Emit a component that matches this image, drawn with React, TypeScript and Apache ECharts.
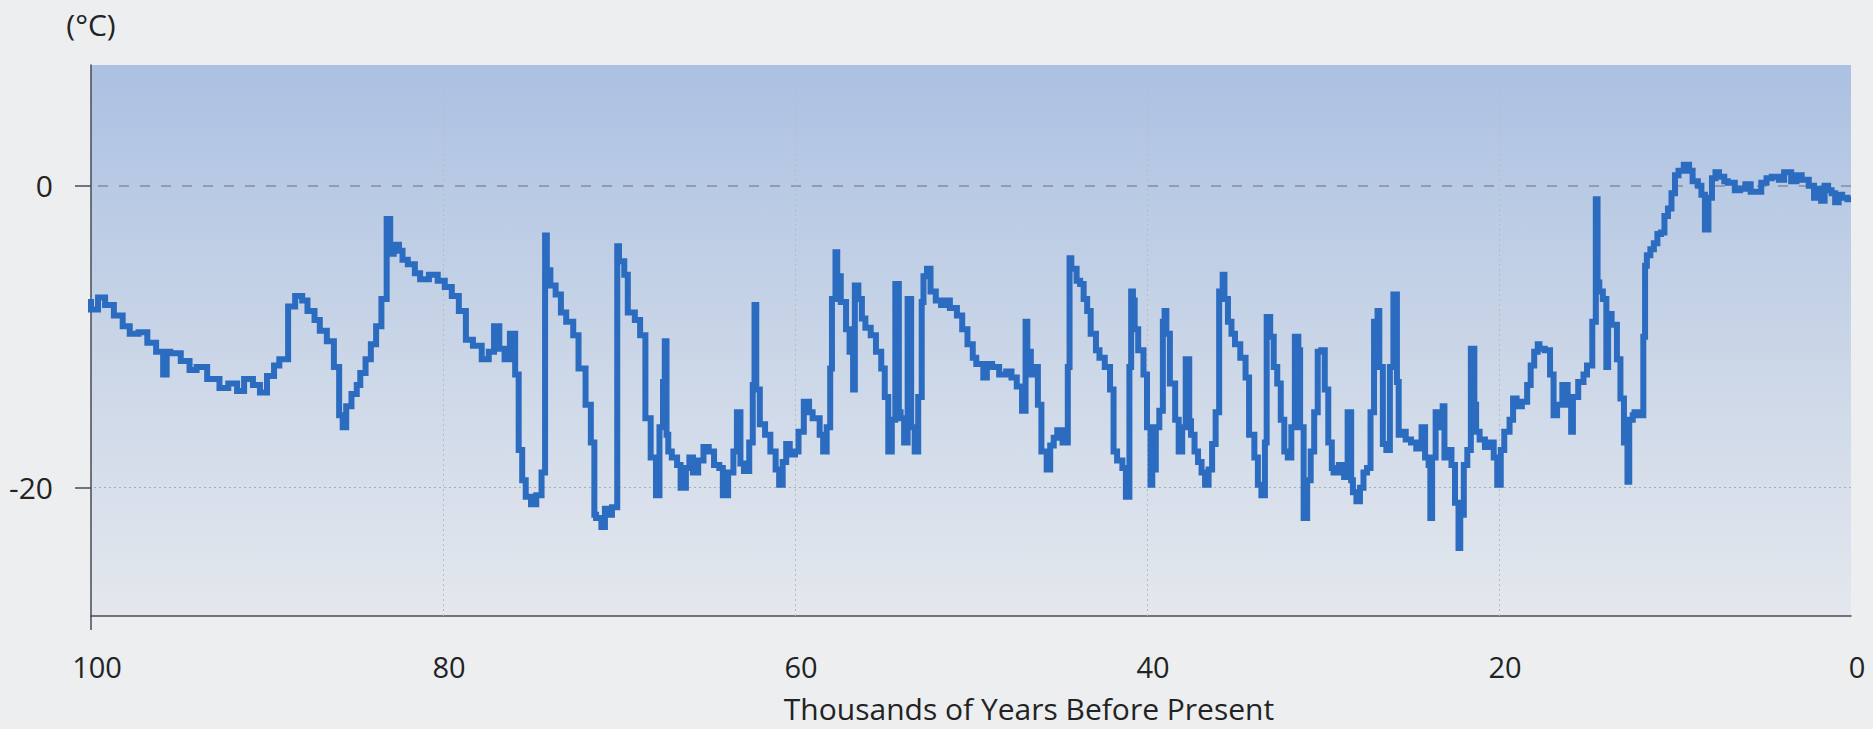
import React, { useEffect, useRef } from "react";
import * as echarts from "echarts";

// Thousands of years before present
const years: number[] = [
  100.0, 99.6, 99.2, 98.7, 98.2, 97.8, 97.3, 96.8, 96.3, 95.9, 95.7, 95.5, 94.9, 94.4, 94.0, 93.4, 92.7, 92.2, 91.7, 91.3,
  90.8, 90.4, 90.0, 89.6, 89.3, 88.8, 88.4, 88.0, 87.7, 87.3, 87.0, 86.6, 86.2, 85.9, 85.7, 85.5, 85.2, 84.9, 84.7, 84.4,
  84.1, 83.8, 83.5, 83.2, 83.0, 82.8, 82.5, 82.3, 82.0, 81.6, 81.3, 80.8, 80.3, 79.9, 79.5, 79.1, 78.7, 78.3, 77.8, 77.4,
  77.1, 76.8, 76.5, 76.2, 75.9, 75.7, 75.5, 75.3, 75.0, 74.7, 74.4, 74.2, 74.1, 73.9, 73.6, 73.3, 73.0, 72.6, 72.3, 71.9,
  71.6, 71.4, 71.3, 71.0, 70.8, 70.6, 70.4, 70.1, 70.0, 69.7, 69.5, 69.1, 68.8, 68.5, 68.2, 67.9, 67.7, 67.5, 67.4, 67.3,
  67.2, 67.0, 66.7, 66.5, 66.2, 66.0, 65.8, 65.5, 65.2, 64.9, 64.6, 64.3, 64.1, 63.8, 63.5, 63.3, 63.1, 62.9, 62.6, 62.4,
  62.3, 62.2, 62.0, 61.7, 61.4, 61.1, 60.9, 60.7, 60.5, 60.3, 60.0, 59.8, 59.5, 59.2, 59.0, 58.6, 58.4, 58.2, 58.0, 57.9,
  57.7, 57.6, 57.4, 57.1, 56.9, 56.7, 56.6, 56.4, 56.2, 56.0, 55.7, 55.4, 55.1, 54.9, 54.7, 54.5, 54.3, 54.1, 54.0, 53.8,
  53.6, 53.4, 53.2, 53.0, 52.8, 52.7, 52.5, 52.3, 52.0, 51.7, 51.5, 51.2, 50.8, 50.5, 50.2, 49.9, 49.7, 49.3, 49.1, 48.8,
  48.4, 48.0, 47.7, 47.4, 47.1, 46.9, 46.8, 46.6, 46.4, 46.2, 46.0, 45.7, 45.5, 45.3, 45.1, 44.8, 44.5, 44.4, 44.3, 44.0,
  43.8, 43.6, 43.4, 43.2, 42.9, 42.7, 42.4, 42.1, 41.9, 41.7, 41.4, 41.2, 41.0, 40.9, 40.8, 40.7, 40.5, 40.2, 40.0, 39.8,
  39.7, 39.5, 39.3, 39.1, 39.0, 38.9, 38.7, 38.4, 38.2, 38.0, 37.8, 37.6, 37.5, 37.3, 37.1, 36.9, 36.7, 36.5, 36.3, 36.1,
  35.9, 35.7, 35.6, 35.4, 35.2, 35.0, 34.7, 34.4, 34.2, 33.9, 33.7, 33.5, 33.3, 33.2, 33.0, 32.8, 32.6, 32.4, 32.2, 32.0,
  31.8, 31.6, 31.4, 31.3, 31.1, 30.9, 30.7, 30.5, 30.3, 30.1, 29.9, 29.7, 29.5, 29.4, 29.1, 28.8, 28.6, 28.4, 28.3, 28.1,
  27.9, 27.7, 27.5, 27.3, 27.1, 26.9, 26.8, 26.6, 26.4, 26.2, 26.0, 25.8, 25.7, 25.5, 25.3, 25.0, 24.7, 24.4, 24.2, 24.0,
  23.9, 23.8, 23.6, 23.4, 23.2, 23.1, 22.9, 22.7, 22.5, 22.3, 22.2, 22.0, 21.8, 21.6, 21.4, 21.3, 21.1, 20.8, 20.5, 20.3,
  20.1, 19.9, 19.7, 19.4, 19.2, 19.0, 18.7, 18.4, 18.2, 18.0, 17.8, 17.7, 17.4, 17.1, 16.9, 16.7, 16.4, 16.1, 15.9, 15.8,
  15.5, 15.2, 15.0, 14.7, 14.5, 14.4, 14.3, 14.1, 13.9, 13.8, 13.6, 13.3, 13.1, 12.9, 12.7, 12.6, 12.4, 12.3, 12.0, 11.8,
  11.7, 11.6, 11.4, 11.2, 11.0, 10.8, 10.6, 10.4, 10.2, 10.0, 9.8, 9.5, 9.2, 9.0, 8.7, 8.5, 8.3, 8.1, 7.9, 7.7,
  7.5, 7.2, 7.0, 6.6, 6.3, 6.0, 5.7, 5.4, 5.1, 4.8, 4.5, 4.1, 3.8, 3.4, 3.1, 2.8, 2.4, 2.1, 1.9, 1.7,
  1.5, 1.3, 1.1, 0.9, 0.7, 0.5, 0.2, 0.0,
];

// Temperature (°C) relative to present
const temps: number[] = [
  -7.5, -8.2, -7.4, -7.9, -8.6, -9.3, -9.8, -9.7, -10.4, -11.0, -12.5, -11.0, -11.1, -11.6, -12.2, -12.0, -12.8, -13.4, -13.1, -13.6,
  -12.8, -13.2, -13.7, -12.6, -11.9, -11.5, -8.0, -7.3, -7.6, -8.3, -8.9, -9.6, -10.3, -12.0, -15.2, -16.0, -14.6, -13.8, -13.2, -12.4,
  -11.5, -10.5, -9.3, -7.5, -2.2, -4.5, -3.9, -4.3, -4.9, -5.2, -5.8, -6.2, -5.9, -6.3, -6.7, -7.3, -8.3, -10.2, -10.6, -11.5,
  -11.0, -9.3, -10.8, -11.5, -9.8, -12.5, -17.5, -19.5, -20.6, -21.1, -20.5, -19.0, -3.3, -5.6, -6.6, -7.2, -8.4, -9.0, -9.9, -12.1,
  -14.5, -17.0, -21.8, -22.0, -22.6, -21.4, -21.8, -21.3, -4.0, -5.0, -5.9, -8.4, -8.9, -9.9, -15.4, -18.0, -20.5, -16.0, -13.0, -10.3,
  -16.5, -17.6, -18.0, -18.5, -20.0, -18.7, -18.0, -19.0, -18.2, -17.3, -17.6, -18.5, -18.7, -20.5, -19.0, -17.6, -15.0, -18.4, -18.9, -17.0,
  -13.2, -7.9, -13.5, -15.8, -16.5, -17.6, -18.8, -19.8, -18.3, -17.1, -17.8, -17.6, -16.3, -14.3, -15.0, -15.4, -16.5, -17.6, -16.0, -12.1,
  -7.5, -4.4, -6.0, -7.7, -9.5, -11.0, -13.5, -6.6, -7.5, -8.8, -9.4, -9.9, -11.0, -12.1, -14.0, -17.6, -15.5, -6.5, -15.0, -15.4,
  -17.0, -7.5, -16.0, -17.6, -14.0, -7.7, -6.0, -5.5, -7.0, -7.6, -7.9, -7.6, -8.1, -8.6, -9.5, -10.5, -11.4, -11.8, -12.7, -11.8,
  -12.0, -12.5, -12.3, -12.7, -13.3, -14.9, -9.0, -11.0, -12.5, -12.0, -14.5, -17.6, -18.8, -17.2, -16.7, -16.2, -17.0, -12.0, -4.8, -5.5,
  -6.3, -6.5, -7.5, -8.3, -9.8, -10.9, -11.4, -12.0, -13.5, -17.6, -18.2, -18.7, -20.6, -12.0, -7.0, -7.6, -9.5, -10.9, -12.5, -16.0,
  -19.8, -18.8, -16.0, -14.9, -9.0, -8.3, -9.8, -13.1, -15.5, -17.6, -16.0, -11.5, -15.6, -16.5, -17.6, -18.3, -19.0, -19.8, -18.8, -17.1,
  -15.0, -7.0, -5.9, -7.5, -9.0, -9.8, -10.5, -11.4, -12.7, -16.5, -18.0, -19.8, -20.5, -17.0, -8.7, -10.0, -12.0, -13.1, -15.5, -17.6,
  -18.0, -16.0, -10.0, -10.9, -16.0, -22.0, -19.5, -17.6, -15.0, -11.0, -10.9, -13.5, -17.0, -18.7, -19.0, -18.5, -19.3, -15.0, -19.5, -20.3,
  -20.9, -20.0, -19.0, -18.7, -15.0, -9.0, -8.3, -12.0, -17.1, -17.5, -12.0, -7.2, -13.0, -16.5, -16.3, -16.8, -17.0, -17.4, -16.0, -18.0,
  -18.5, -22.0, -18.0, -15.0, -16.0, -14.6, -18.0, -17.5, -18.5, -21.0, -24.0, -21.8, -18.5, -17.5, -10.8, -14.5, -16.3, -16.8, -17.3, -17.0,
  -18.0, -19.8, -17.5, -16.3, -15.5, -14.1, -14.6, -14.3, -13.2, -11.9, -11.0, -10.5, -10.8, -10.9, -12.5, -15.2, -14.5, -13.2, -14.5, -16.3,
  -14.0, -13.0, -12.5, -11.9, -9.0, -0.9, -6.4, -7.0, -7.5, -12.0, -8.5, -9.2, -11.5, -14.1, -17.0, -19.6, -15.5, -15.2, -15.0, -15.2,
  -10.0, -5.3, -4.6, -4.2, -3.8, -3.2, -3.1, -2.0, -1.5, -0.5, 0.7, 1.0, 1.4, 1.0, 0.3, 0.0, -0.6, -2.9, -0.8, 0.5,
  0.9, 0.6, 0.3, 0.2, -0.3, -0.2, 0.1, -0.4, -0.4, 0.2, 0.5, 0.6, 0.4, 0.9, 0.3, 0.7, 0.4, 0.0, -0.8, -0.2,
  -1.0, 0.0, -0.3, -0.5, -1.1, -0.6, -0.8, -0.9,
];

const xTicks: number[] = [100, 80, 60, 40, 20, 0];
const xGrid: number[] = [80, 60, 40, 20];
const yTicks: number[] = [0, -20];

const FONT = "'Open Sans', Lato, sans-serif";
const TEXT = "#232323";
const AXIS = "#4a4a55";

export default function App() {
  const ref = useRef<HTMLDivElement>(null);

  useEffect(() => {
    document.body.style.margin = "0";
    document.body.style.background = "#eceef0";
    if (!ref.current) return;
    const chart = echarts.init(ref.current, null, { renderer: "svg" });
    const data = years.map((y, i) => [y, temps[i]]);

    const gridLines: any[] = [
      {
        yAxis: yTicks[0],
        lineStyle: { type: [10, 11], color: "#878b9b", width: 1.6 },
      },
      {
        yAxis: yTicks[1],
        lineStyle: { type: [2, 3], color: "#a9adb8", width: 1 },
      },
      ...xGrid.map((v) => ({
        xAxis: v,
        lineStyle: { type: [2, 3], color: "#b7bbc6", width: 1 },
      })),
    ];

    chart.setOption({
      animation: false,
      backgroundColor: "#eceef0",
      grid: {
        left: 91,
        right: 22,
        top: 65,
        bottom: 113,
        containLabel: false,
        outerBoundsMode: "none",
        show: true,
        borderWidth: 0,
        backgroundColor: new echarts.graphic.LinearGradient(0, 0, 0, 1, [
          { offset: 0, color: "#abc1e2" },
          { offset: 0.5, color: "#c9d5e7" },
          { offset: 1, color: "#e4e8ee" },
        ]),
      },
      xAxis: {
        type: "value",
        inverse: true,
        min: 0,
        max: 100,
        interval: 20,
        axisLine: { show: true, onZero: false, lineStyle: { color: AXIS, width: 1.5 } },
        axisTick: { show: true, customValues: [100], length: 14, lineStyle: { color: AXIS, width: 1.5 } },
        splitLine: { show: false },
        axisLabel: {
          customValues: xTicks,
          fontSize: 29,
          fontFamily: FONT,
          color: TEXT,
          margin: 36,
          lineHeight: 29,
          padding: [0, 0, 0, 12],
        },
        name: "Thousands of Years Before Present",
        nameLocation: "middle",
        nameGap: 77,
        nameTextStyle: {
          fontSize: 30,
          fontFamily: FONT,
          color: TEXT,
          lineHeight: 30,
          padding: [0, 0, 0, 116],
        },
      },
      yAxis: {
        type: "value",
        position: "left",
        min: -28.5,
        max: 8,
        axisLine: { show: true, onZero: false, lineStyle: { color: AXIS, width: 1.5 } },
        axisTick: { show: true, customValues: yTicks, length: 16, lineStyle: { color: AXIS, width: 1.5 } },
        axisLabel: {
          customValues: yTicks,
          fontSize: 30,
          fontFamily: FONT,
          color: TEXT,
          margin: 38,
        },
        splitLine: { show: false },
        name: "(°C)",
        nameLocation: "end",
        nameGap: 26,
        nameTextStyle: {
          fontSize: 30,
          fontFamily: FONT,
          color: TEXT,
          align: "center",
        },
      },
      series: [
        {
          type: "line",
          data,
          step: "start",
          showSymbol: false,
          symbol: "none",
          lineStyle: { color: "#2b6bc0", width: 6, join: "miter" },
          z: 3,
          markLine: {
            silent: true,
            symbol: "none",
            label: { show: false },
            data: gridLines,
            z: 1,
          },
        },
      ],
    });
    return () => chart.dispose();
  }, []);

  return (
    <div
      ref={ref}
      style={{ position: "fixed", left: 0, top: 0, width: 1873, height: 729, background: "#eceef0" }}
    />
  );
}
